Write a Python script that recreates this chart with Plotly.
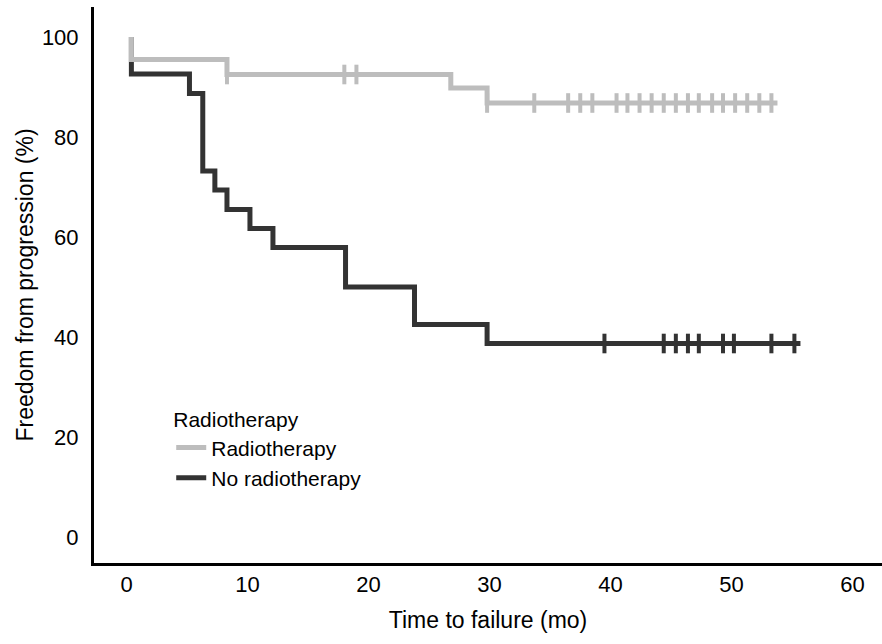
import plotly.graph_objects as go

# Kaplan-Meier step data
rt_times = [0.4, 0.4, 8.3, 26.8, 29.8, 53.8]
rt_surv = [100, 95.5, 92.5, 89.8, 86.8, 86.8]
rt_censor = [8.3, 18.0, 19.0, 29.8, 33.7, 36.5, 37.5, 38.5, 40.5, 41.4, 42.4,
             43.4, 44.4, 45.4, 46.4, 47.3, 48.4, 49.3, 50.3, 51.3, 52.3, 53.3]

nort_times = [0.4, 0.4, 5.2, 6.3, 7.3, 8.3, 10.2, 12.1, 18.1, 23.8, 29.8, 55.7]
nort_surv = [100, 92.6, 88.7, 73.2, 69.4, 65.5, 61.7, 57.9, 50.0, 42.5, 38.7, 38.7]
nort_censor = [39.5, 44.4, 45.4, 46.4, 47.3, 49.3, 50.2, 53.3, 55.2]

x_ticks = [0, 10, 20, 30, 40, 50, 60]
y_ticks = [0, 20, 40, 60, 80, 100]

GRAY = "#bdbdbd"
DARK = "#333333"
FONT = "Arial, Liberation Sans, sans-serif"


def step_value(times, surv, t):
    val = surv[0]
    for ti, si in zip(times, surv):
        if ti <= t:
            val = si
    return val


fig = go.Figure()

# No radiotherapy drawn first so the radiotherapy curve sits on top
fig.add_trace(go.Scatter(x=nort_times, y=nort_surv, mode="lines", line_shape="hv",
                         line=dict(color=DARK, width=5), name="No radiotherapy",
                         legendrank=2))
fig.add_trace(go.Scatter(x=nort_censor, y=[step_value(nort_times, nort_surv, t) for t in nort_censor],
                         mode="markers", showlegend=False,
                         marker=dict(symbol="line-ns-open", size=14, color=DARK,
                                     line=dict(color=DARK, width=4))))
fig.add_trace(go.Scatter(x=rt_times, y=rt_surv, mode="lines", line_shape="hv",
                         line=dict(color=GRAY, width=5), name="Radiotherapy",
                         legendrank=1))
fig.add_trace(go.Scatter(x=rt_censor, y=[step_value(rt_times, rt_surv, t) for t in rt_censor],
                         mode="markers", showlegend=False,
                         marker=dict(symbol="line-ns-open", size=14, color=GRAY,
                                     line=dict(color=GRAY, width=4))))

fig.update_layout(
    width=882, height=644,
    margin=dict(l=94, r=0, t=7, b=81),
    plot_bgcolor="white", paper_bgcolor="white",
    font=dict(family=FONT, color="#000000", size=21),
    legend=dict(
        title=dict(text="Radiotherapy", font=dict(size=21)),
        x=0.098, y=0.293, xanchor="left", yanchor="top",
        bgcolor="rgba(0,0,0,0)", borderwidth=0,
        font=dict(size=21), tracegroupgap=0,
    ),
    xaxis=dict(
        range=[-2.69, 62.44], tickvals=x_ticks, ticktext=[str(v) for v in x_ticks],
        showgrid=False, zeroline=False, showline=True, linecolor="black", linewidth=3,
        ticks="outside", ticklen=0, tickcolor="rgba(0,0,0,0)",
        tickfont=dict(size=22), automargin=False,
        title=dict(text="Time to failure (mo)", font=dict(size=23), standoff=16),
    ),
    yaxis=dict(
        range=[-5.2, 106], tickvals=y_ticks, ticktext=[str(v) for v in y_ticks],
        showgrid=False, zeroline=False, showline=True, linecolor="black", linewidth=3,
        ticks="outside", ticklen=8, tickcolor="rgba(0,0,0,0)",
        tickfont=dict(size=22), automargin=False,
        title=dict(text="Freedom from progression (%)", font=dict(size=23), standoff=2),
    ),
)

fig.write_html("out.html", config={"displayModeBar": False},
               post_script="document.body.style.margin='0';")
